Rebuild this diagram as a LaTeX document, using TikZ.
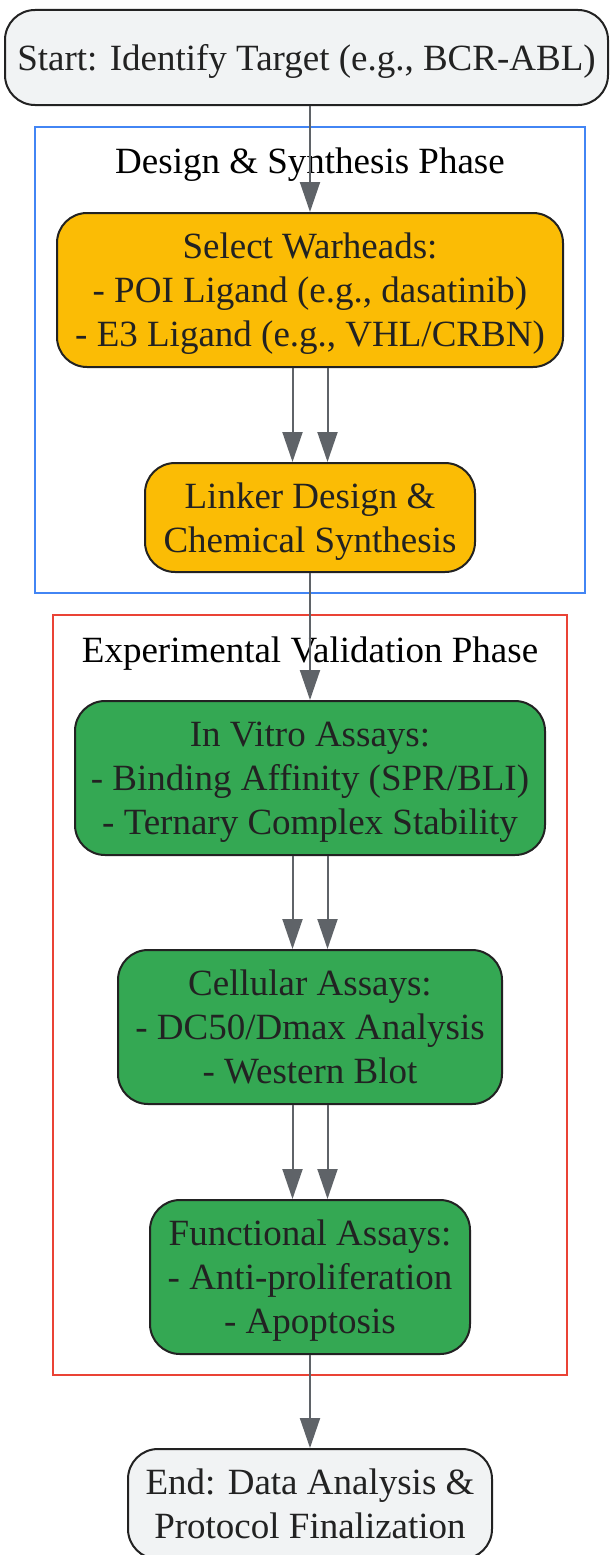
\documentclass[tikz,border=0pt]{standalone}
\usepackage{fontspec}
\setmainfont{Liberation Serif}
\usepackage{xcolor}
\usetikzlibrary{shapes,arrows,positioning,calc,arrows.meta}

\definecolor{startgray}{HTML}{F1F3F4}
\definecolor{warnyellow}{HTML}{FBBC05}
\definecolor{okgreen}{HTML}{34A853}
\definecolor{phaseblue}{HTML}{4285F4}
\definecolor{phasered}{HTML}{EA4335}
\definecolor{linkgray}{HTML}{5F6368}
\definecolor{inkgray}{HTML}{222222}

\begin{document}
\begin{tikzpicture}[x=1pt, y=-1pt,
    every node/.style={font=\fontsize{37}{44}\selectfont, align=center, inner sep=0pt, text depth=0pt},
    stepbox/.style={draw=inkgray, line width=2pt, rounded corners=30pt, text=inkgray},
    phasebox/.style={draw, line width=2pt, minimum width=#1},
    flow/.style={-{Triangle[length=30pt,width=20pt]}, draw=linkgray, line width=2pt}]
    \useasboundingbox (0,0) rectangle (610,1555);

    % Phases
    \node[phasebox=550pt, draw=phaseblue, minimum height=466pt] (design) at (310,360) {};
    \node (designlbl) at (310,161) {Design \& Synthesis Phase};
    \node[phasebox=514pt, draw=phasered, minimum height=760pt] (valid) at (310,995) {};
    \node (validlbl) at (310,650) {Experimental Validation Phase};

    % Start and end
    \node[stepbox, fill=startgray, minimum width=603pt, minimum height=95pt] (start) at (306.5,57.5) {Start: Identify Target (e.g., BCR-ABL)};
    \node[stepbox, fill=startgray, minimum width=364pt, minimum height=110pt] (finish) at (310,1504) {End: Data Analysis \&\\Protocol Finalization};

    % Design steps
    \node[stepbox, fill=warnyellow, minimum width=506pt, minimum height=154pt] (sw) at (310,290) {Select Warheads:\\- POI Ligand (e.g., dasatinib)\\- E3 Ligand (e.g., VHL/CRBN)};
    \node[stepbox, fill=warnyellow, minimum width=330pt, minimum height=109pt] (lk) at (310,517.5) {Linker Design \&\\Chemical Synthesis};

    % Validation steps
    \node[stepbox, fill=okgreen, minimum width=470pt, minimum height=154pt] (vitro) at (310,778) {In Vitro Assays:\\- Binding Affinity (SPR/BLI)\\- Ternary Complex Stability};
    \node[stepbox, fill=okgreen, minimum width=384pt, minimum height=154pt] (cell) at (310,1027) {Cellular Assays:\\- DC50/Dmax Analysis\\- Western Blot};
    \node[stepbox, fill=okgreen, minimum width=320pt, minimum height=154pt] (func) at (310,1277) {Functional Assays:\\- Anti-proliferation\\- Apoptosis};

    % Single links
    \draw[flow] (start.south -| sw.north) -- (sw.north);
    \draw[flow] (lk) -- (vitro);
    \draw[flow] (func) -- (finish);

    % Double links
    \draw[flow] ([xshift=-17.5pt]sw.south) -- ([xshift=-17.5pt]lk.north);
    \draw[flow] ([xshift=17.5pt]sw.south) -- ([xshift=17.5pt]lk.north);
    \draw[flow] ([xshift=-17.5pt]vitro.south) -- ([xshift=-17.5pt]cell.north);
    \draw[flow] ([xshift=17.5pt]vitro.south) -- ([xshift=17.5pt]cell.north);
    \draw[flow] ([xshift=-17.5pt]cell.south) -- ([xshift=-17.5pt]func.north);
    \draw[flow] ([xshift=17.5pt]cell.south) -- ([xshift=17.5pt]func.north);
\end{tikzpicture}
\end{document}
